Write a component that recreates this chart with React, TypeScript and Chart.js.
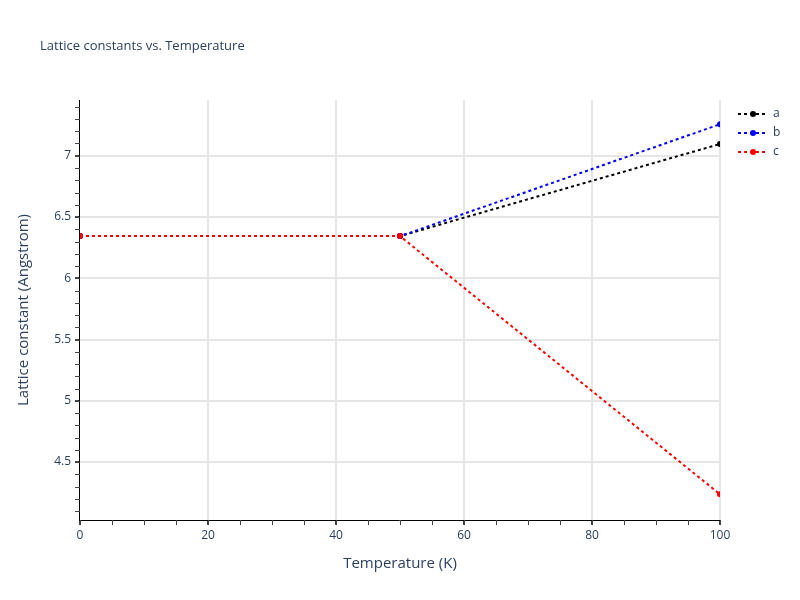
import React, { useEffect, useRef } from "react";
import { Chart, registerables } from "chart.js";

Chart.register(...registerables);

const temperatures = [0, 50, 100];
const seriesA = [6.344, 6.344, 7.096];
const seriesB = [6.344, 6.344, 7.257];
const seriesC = [6.344, 6.344, 4.237];
const seriesNames = ["a", "b", "c"];
const seriesColors = ["#000000", "#0000ff", "#ff0000"];
const yTicks = [4.5, 5, 5.5, 6, 6.5, 7];
const xTicks = [0, 20, 40, 60, 80, 100];
const titleText = "Lattice constants vs. Temperature";
const xTitle = "Temperature (K)";
const yTitle = "Lattice constant (Angstrom)";

const FONT = '"Open Sans", verdana, arial, sans-serif';
const TEXT = "#2a3f5f";

const decorPlugin = {
  id: "decor",
  afterDraw(chart: any) {
    const ctx = chart.ctx;
    const area = chart.chartArea;
    const xs = chart.scales.x;
    const ys = chart.scales.y;
    ctx.save();
    // axis lines
    ctx.strokeStyle = "#000";
    ctx.lineWidth = 1;
    ctx.beginPath();
    ctx.moveTo(area.left - 0.5, area.top);
    ctx.lineTo(area.left - 0.5, area.bottom + 1);
    ctx.moveTo(area.left - 1, area.bottom + 0.5);
    ctx.lineTo(area.right, area.bottom + 0.5);
    ctx.stroke();
    // minor ticks
    ctx.strokeStyle = "#444";
    ctx.beginPath();
    for (let v = 4.1; v < 7.45; v += 0.1) {
      const py = Math.round(ys.getPixelForValue(v)) + 0.5;
      if (py < area.top || py > area.bottom) continue;
      ctx.moveTo(area.left - 5, py);
      ctx.lineTo(area.left, py);
    }
    for (let v = 0; v <= 100; v += 5) {
      const px = Math.round(xs.getPixelForValue(v)) + 0.5;
      ctx.moveTo(px, area.bottom);
      ctx.lineTo(px, area.bottom + 5);
    }
    ctx.stroke();
    // title
    ctx.fillStyle = TEXT;
    ctx.font = `13px ${FONT}`;
    ctx.textAlign = "left";
    ctx.textBaseline = "middle";
    ctx.fillText(titleText, 40, 46);
    // axis titles
    ctx.font = `15px ${FONT}`;
    ctx.textAlign = "center";
    ctx.fillText(xTitle, (area.left + area.right) / 2, 564);
    ctx.save();
    ctx.translate(24, (area.top + area.bottom) / 2);
    ctx.rotate(-Math.PI / 2);
    ctx.fillText(yTitle, 0, 0);
    ctx.restore();
    // legend
    ctx.font = `12px ${FONT}`;
    seriesNames.forEach((name, i) => {
      const y = 114 + i * 19;
      ctx.strokeStyle = seriesColors[i];
      ctx.lineWidth = 2;
      ctx.setLineDash([3, 3]);
      ctx.beginPath();
      ctx.moveTo(738, y);
      ctx.lineTo(768, y);
      ctx.stroke();
      ctx.setLineDash([]);
      ctx.fillStyle = seriesColors[i];
      ctx.beginPath();
      ctx.arc(753, y, 3, 0, Math.PI * 2);
      ctx.fill();
      ctx.fillStyle = TEXT;
      ctx.textAlign = "left";
      ctx.fillText(name, 773, y);
    });
    ctx.restore();
  },
};

export default function App() {
  const ref = useRef<HTMLCanvasElement>(null);
  useEffect(() => {
    document.body.style.margin = "0";
    const series = [seriesA, seriesB, seriesC];
    const chart = new Chart(ref.current!, {
      type: "line",
      data: {
        datasets: series.map((vals, i) => ({
          label: seriesNames[i],
          data: temperatures.map((t, j) => ({ x: t, y: vals[j] })),
          borderColor: seriesColors[i],
          backgroundColor: seriesColors[i],
          borderWidth: 2,
          borderDash: [3, 3],
          pointRadius: 3,
          pointBorderWidth: 0,
          pointHoverRadius: 3,
          tension: 0,
          order: 3 - i,
        })),
      },
      options: {
        animation: false,
        responsive: false,
        layout: { padding: { top: 100, right: 80, left: 0, bottom: 0 } },
        plugins: {
          legend: { display: false },
          title: { display: false },
          tooltip: { enabled: false },
        },
        scales: {
          x: {
            type: "linear",
            min: 0,
            max: 100,
            afterFit: (s: any) => {
              s.height = 80;
            },
            afterBuildTicks: (s: any) => {
              s.ticks = xTicks.map((v) => ({ value: v }));
            },
            border: { display: false },
            grid: {
              color: (c: any) => (c.tick && c.tick.value === 0 ? "rgba(0,0,0,0)" : "#e6e6e6"),
              lineWidth: 2,
              tickColor: "#444",
              tickLength: 5,
            },
            ticks: {
              color: TEXT,
              font: { family: FONT, size: 12 },
              padding: 3,
              maxRotation: 0,
              autoSkip: false,
            },
          },
          y: {
            type: "linear",
            min: 4.027,
            max: 7.455,
            afterFit: (s: any) => {
              s.width = 80;
            },
            afterBuildTicks: (s: any) => {
              s.ticks = yTicks.map((v) => ({ value: v }));
            },
            border: { display: false },
            grid: {
              color: "#e6e6e6",
              lineWidth: 2,
              tickColor: "#444",
              tickLength: 5,
            },
            ticks: {
              color: TEXT,
              font: { family: FONT, size: 12 },
              padding: 4,
              autoSkip: false,
              callback: (v: any) => String(v),
            },
          },
        },
      },
      plugins: [decorPlugin],
    });
    return () => chart.destroy();
  }, []);
  return (
    <div style={{ position: "absolute", left: 0, top: 0, width: 800, height: 600 }}>
      <canvas ref={ref} width={800} height={600} style={{ width: 800, height: 600 }} />
    </div>
  );
}
